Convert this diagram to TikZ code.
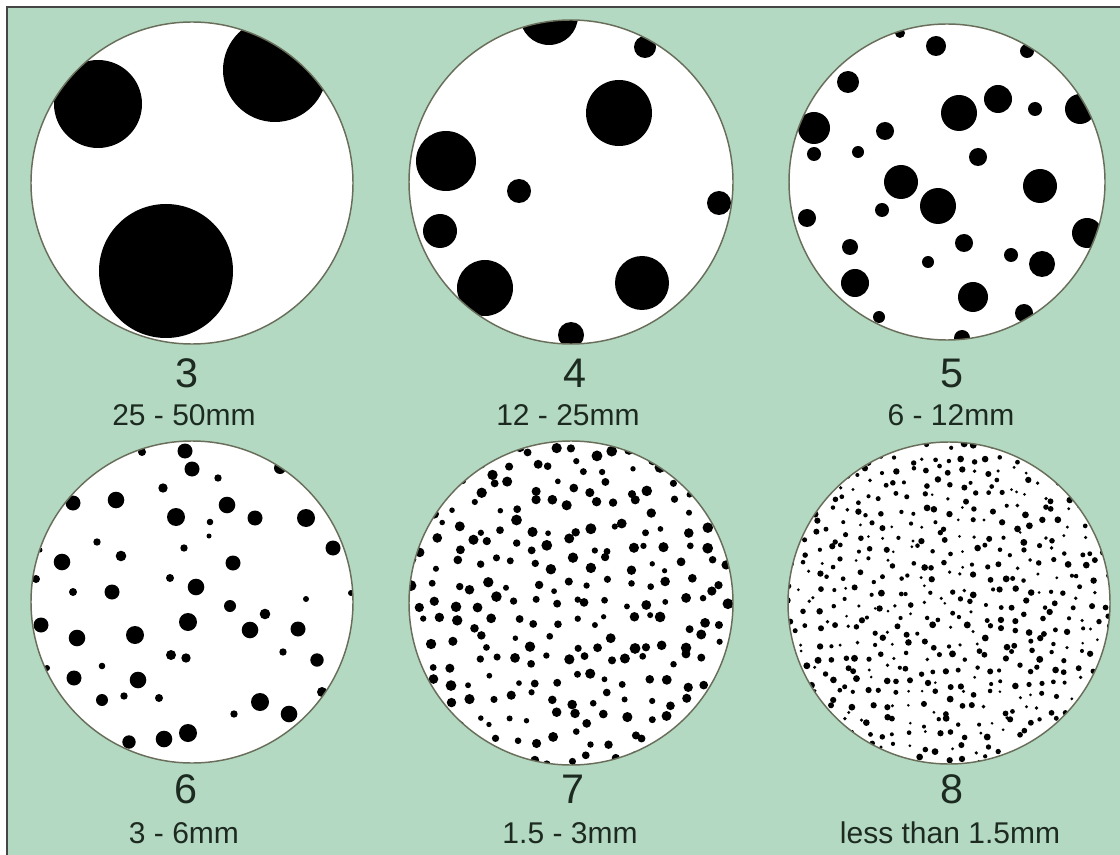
\documentclass[tikz,border=0pt]{standalone}
\usepackage{fontspec}
\setmainfont{Liberation Sans}
\usepackage{tikz}
\usetikzlibrary{positioning}
\definecolor{bggreen}{RGB}{180,217,195}
\definecolor{rimgray}{RGB}{105,110,90}
\definecolor{inktext}{RGB}{28,42,32}
\tikzset{
	grain/.style={fill=black},
	sieve/.style={draw=rimgray, line width=1.1pt},
	classnum/.style={text=inktext, font=\fontsize{31}{31}\selectfont, inner sep=0pt},
	classsize/.style={text=inktext, font=\fontsize{22.5}{22.5}\selectfont, inner sep=0pt}
}

\begin{document}
\begin{tikzpicture}[x=0.75pt,y=-0.75pt]
		\useasboundingbox (0,0) rectangle (1120,855);
		%Background and frame
		\fill[white] (0,0) rectangle (1120,855);
		\fill[bggreen] (7,7) rectangle (1120,855);
		\draw[line width=1.5pt, gray!55!black] (7,855) -- (7,7) -- (1120,7);
		
		%Class 3
		\begin{scope}
			\clip (192,183) circle (161);
			\fill[white] (192,183) circle (161);
			\foreach \x/\y/\r in {98/104/44, 275/70/52, 166/271/67}
			\fill[grain] (\x,\y) circle (\r);
		\end{scope}
		\draw[sieve] (192,183) circle (161);
		\node[classnum] (num3) at (187,373) {3};
		\node[classsize] (size3) at (184,415) {25 - 50mm};
		
		%Class 4
		\begin{scope}
			\clip (571,182) circle (162);
			\fill[white] (571,182) circle (162);
			\foreach \x/\y/\r in {549/16/29, 645/47/11, 619/113/33, 446/161/30, 519/191/12,
				719/203/12, 440/231/17, 485/288/28, 642/283/27, 571/335/13}
			\fill[grain] (\x,\y) circle (\r);
		\end{scope}
		\draw[sieve] (571,182) circle (162);
		\node[classnum] (num4) at (575,373) {4};
		\node[classsize] (size4) at (568,415) {12 - 25mm};
		
		%Class 5
		\begin{scope}
			\clip (947,182) circle (158);
			\fill[white] (947,182) circle (158);
			\foreach \x/\y/\r in {900/33/5, 936/46/10, 1027/51/7, 848/82/11, 959/113/18,
				998/99/14, 1035/109/7, 1080/109/15, 814/128/16, 885/131/9, 814/154/7,
				858/152/6, 978/157/9, 901/182/17, 938/206/18, 1040/186/17, 882/210/7,
				807/218/9, 1087/233/15, 964/243/9, 1011/255/7, 928/262/6, 1042/264/13,
				850/247/8, 855/283/14, 973/297/15, 1024/313/9, 879/317/6, 962/338/8}
			\fill[grain] (\x,\y) circle (\r);
		\end{scope}
		\draw[sieve] (947,182) circle (158);
		\node[classnum] (num5) at (952,373) {5};
		\node[classsize] (size5) at (951,415) {6 - 12mm};
		
		%Class 6
		\begin{scope}
			\clip (192,602) circle (161);
			\fill[white] (192,602) circle (161);
			\foreach \x/\y/\r in {185/451/7.5, 142/452/4, 192/469/7.5, 280/468/6, 218/478/3.7,
				163/488/4.7, 73/503/7.5, 116/500/8.3, 227/505/8.3, 176/517/9, 255/518/7.5,
				306/518/9, 210/522/3.3, 209/536/2.5, 97/542/3.7, 184/548/3.7, 333/548/7.5,
				40/550/2.5, 121/556/5.3, 62/562/8.3, 233/563/7.5, 36/579/4, 170/578/4,
				196/587/8.3, 73/592/4, 112/592/7.5, 351/593/3, 306/599/3, 230/606/6,
				265/614/5.3, 188/622/9, 41/625/7.5, 250/630/8.3, 298/629/7.5, 135/635/9,
				77/638/8.3, 171/655/5, 186/658/4.7, 283/652/3.7, 317/660/6.7, 102/666/3.3,
				47/668/3, 74/678/7.5, 138/680/8.3, 322/692/5, 102/700/6, 124/696/3.7,
				159/698/4, 260/702/9, 234/714/3.7, 289/714/8.3, 188/733/9, 164/739/8.3,
				129/742/6.7}
			\fill[grain] (\x,\y) circle (\r);
		\end{scope}
		\draw[sieve] (192,602) circle (161);
		\node[classnum] (num6) at (186,789) {6};
		\node[classsize] (size6) at (184,833) {3 - 6mm};
		
		%Class 7 (jittered grid)
		\begin{scope}
			\clip (571,603) circle (162);
			\fill[white] (571,603) circle (162);
			\pgfmathsetseed{17}
			\foreach \gx in {-9,...,9}
			\foreach \gy in {-9,...,9}{
				\pgfmathsetmacro{\px}{571+19.3*\gx+15*(rnd-0.5)}
				\pgfmathsetmacro{\py}{603+19.3*\gy+15*(rnd-0.5)}
				\pgfmathsetmacro{\rad}{2.6+2.9*rnd}
				\fill[grain] (\px,\py) circle (\rad);
			}
		\end{scope}
		\draw[sieve] (571,603) circle (162);
		\node[classnum] (num7) at (573,789) {7};
		\node[classsize] (size7) at (570,833) {1.5 - 3mm};
		
		%Class 8 (jittered grid)
		\begin{scope}
			\clip (949,603) circle (161);
			\fill[white] (949,603) circle (161);
			\pgfmathsetseed{29}
			\foreach \gx in {-13,...,13}
			\foreach \gy in {-13,...,13}{
				\pgfmathsetmacro{\px}{949+13.2*\gx+11*(rnd-0.5)}
				\pgfmathsetmacro{\py}{603+13.2*\gy+11*(rnd-0.5)}
				\pgfmathsetmacro{\rad}{1.4+2.1*rnd}
				\fill[grain] (\px,\py) circle (\rad);
			}
		\end{scope}
		\draw[sieve] (949,603) circle (161);
		\node[classnum] (num8) at (952,789) {8};
		\node[classsize] (size8) at (950,833) {less than 1.5mm};
	\end{tikzpicture}
\end{document}
